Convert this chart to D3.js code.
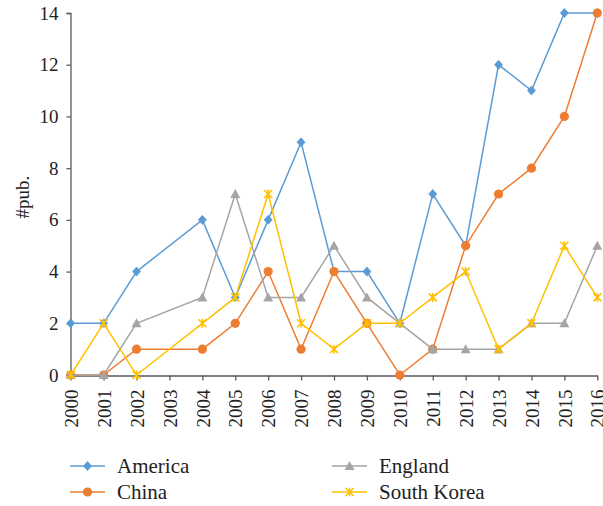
<!DOCTYPE html>
<html>
<head>
<meta charset="utf-8">
<script src="https://cdn.jsdelivr.net/npm/d3@7"></script>
<style>
  html, body { margin: 0; padding: 0; background: #fff; }
  svg { display: block; }
  svg text { font-family: "Liberation Serif", "DejaVu Serif", serif !important; fill: #222; }
</style>
</head>
<body>
<svg id="chart" width="603" height="506"></svg>
<script>
// Publications per year by country (2003 has no records)
const years = [2000, 2001, 2002, 2003, 2004, 2005, 2006, 2007, 2008, 2009, 2010, 2011, 2012, 2013, 2014, 2015, 2016];
const america    = [2, 2, 4, null, 6, 3, 6, 9, 4, 4, 2, 7, 5, 12, 11, 14, 14];
const china      = [0, 0, 1, null, 1, 2, 4, 1, 4, 2, 0, 1, 5, 7, 8, 10, 14];
const england    = [0, 0, 2, null, 3, 7, 3, 3, 5, 3, 2, 1, 1, 1, 2, 2, 5];
const southKorea = [0, 2, 0, null, 2, 3, 7, 2, 1, 2, 2, 3, 4, 1, 2, 5, 3];
const yTicks = [0, 2, 4, 6, 8, 10, 12, 14];

const series = [
  { name: "America",     values: america,    color: "#5B9BD5", marker: "diamond" },
  { name: "China",       values: china,      color: "#ED7D31", marker: "circle" },
  { name: "England",     values: england,    color: "#A5A5A5", marker: "triangle" },
  { name: "South Korea", values: southKorea, color: "#FFC000", marker: "star" }
];

const FONT = "'Liberation Serif', 'DejaVu Serif', serif";
const svg = d3.select("#chart");
const x = d3.scaleLinear().domain([2000, 2016]).range([70.7, 597.3]);
const y = d3.scaleLinear().domain([0, 14]).range([375, 13]);

// Y axis
const yAxis = svg.append("g").attr("transform", "translate(70.5,0)")
  .call(d3.axisLeft(y).tickValues(yTicks).tickSize(4).tickPadding(8));
yAxis.attr("font-family", null);
yAxis.select(".domain").attr("stroke", "#595959").attr("stroke-width", 1.3);
yAxis.selectAll(".tick line").attr("stroke", "#595959").attr("stroke-width", 1.3);
yAxis.selectAll(".tick text").style("font-size", "19px").style("font-family", FONT);

// X axis with vertical year labels
const xAxis = svg.append("g").attr("transform", "translate(0,375.5)")
  .call(d3.axisBottom(x).tickValues(years).tickFormat(d3.format("d")).tickSize(5).tickSizeOuter(0));
xAxis.attr("font-family", null);
xAxis.select(".domain").attr("stroke", "#595959").attr("stroke-width", 1.3);
xAxis.selectAll(".tick line").attr("stroke", "#595959").attr("stroke-width", 1.3);
xAxis.selectAll(".tick text")
  .style("font-size", "19px").style("font-family", FONT)
  .attr("transform", "rotate(-90)")
  .attr("text-anchor", "end")
  .attr("x", -14).attr("y", 0).attr("dy", "0.35em");

// Y axis title
svg.append("text")
  .attr("transform", "translate(22,197) rotate(-90)")
  .attr("text-anchor", "middle")
  .attr("dy", "0.35em")
  .style("font-size", "19px").style("font-family", FONT)
  .text("#pub.");

function drawMarker(g, type, color, cx, cy) {
  if (type === "diamond") {
    g.append("path")
      .attr("d", `M${cx},${cy - 4.5}L${cx + 4},${cy}L${cx},${cy + 4.5}L${cx - 4},${cy}Z`)
      .attr("fill", color).attr("stroke", color).attr("stroke-width", 0.8);
  } else if (type === "circle") {
    g.append("circle").attr("cx", cx).attr("cy", cy).attr("r", 4.6).attr("fill", color);
  } else if (type === "triangle") {
    g.append("path")
      .attr("d", `M${cx},${cy - 5}L${cx + 5},${cy + 4}L${cx - 5},${cy + 4}Z`)
      .attr("fill", color);
  } else if (type === "star") {
    const r = 4;
    g.append("path")
      .attr("d", `M${cx - r},${cy - r}L${cx + r},${cy + r}M${cx - r},${cy + r}L${cx + r},${cy - r}M${cx},${cy - r - 0.5}L${cx},${cy + r + 0.5}`)
      .attr("stroke", color).attr("stroke-width", 1.6).attr("fill", "none");
  }
}

const line = d3.line().x(d => x(d.year)).y(d => y(d.value));

series.forEach(s => {
  const pts = years.map((yr, i) => ({ year: yr, value: s.values[i] })).filter(d => d.value !== null);
  const g = svg.append("g");
  g.append("path").datum(pts)
    .attr("d", line)
    .attr("fill", "none")
    .attr("stroke", s.color)
    .attr("stroke-width", 1.5);
  pts.forEach(d => drawMarker(g, s.marker, s.color, x(d.year), y(d.value)));
});

// Legend
const legendPos = [
  { lx: 70, ty: 466 }, { lx: 70, ty: 492 },
  { lx: 332, ty: 466 }, { lx: 332, ty: 492 }
];
series.forEach((s, i) => {
  const p = legendPos[i];
  const g = svg.append("g");
  g.append("line").attr("x1", p.lx).attr("x2", p.lx + 35)
    .attr("y1", p.ty).attr("y2", p.ty)
    .attr("stroke", s.color).attr("stroke-width", 1.5);
  drawMarker(g, s.marker, s.color, p.lx + 17.5, p.ty);
  g.append("text").attr("x", p.lx + 47).attr("y", p.ty).attr("dy", "0.35em")
    .style("font-size", "21px").style("font-family", FONT).text(s.name);
});
</script>
</body>
</html>
